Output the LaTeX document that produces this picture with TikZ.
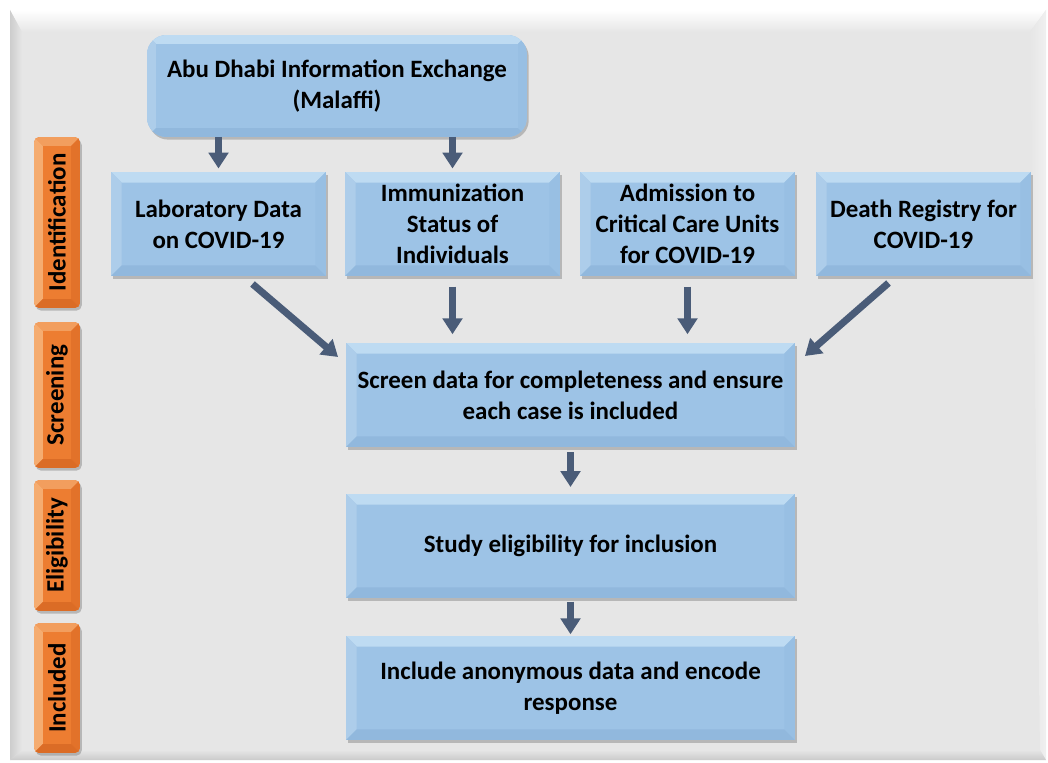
\documentclass[tikz,border=0pt]{standalone}
\usepackage{fontspec}
\setmainfont{Carlito}
\usetikzlibrary{arrows.meta,shadows,calc}
\definecolor{panel}{HTML}{E6E6E6}
\definecolor{panelleft}{HTML}{CDCDCD}
\definecolor{bluef}{HTML}{9DC3E6}
\definecolor{bluetop}{HTML}{BEDBF2}
\definecolor{blueleft}{HTML}{ADCDEA}
\definecolor{blueright}{HTML}{98BFE3}
\definecolor{bluebot}{HTML}{91B8DD}
\definecolor{orf}{HTML}{ED7D31}
\definecolor{ortop}{HTML}{F29E5E}
\definecolor{orleft}{HTML}{F5AC70}
\definecolor{orright}{HTML}{E2722A}
\definecolor{orbot}{HTML}{DB6C26}
\definecolor{arrc}{HTML}{4A5C78}
\newcommand\mainf{\fontsize{14.2}{17.5}\selectfont\bfseries}
\newcommand\bevelit[7]{%
\begin{scope}
\clip[rounded corners=#3] (#1.south west) rectangle (#1.north east);
\fill[#4] (#1.north west) -- (#1.north east) -- ([shift={(-#2,-#2)}]#1.north east) -- ([shift={(#2,-#2)}]#1.north west) -- cycle;
\fill[#5] (#1.north west) -- (#1.south west) -- ([shift={(#2,#2)}]#1.south west) -- ([shift={(#2,-#2)}]#1.north west) -- cycle;
\fill[#6] (#1.north east) -- (#1.south east) -- ([shift={(-#2,#2)}]#1.south east) -- ([shift={(-#2,-#2)}]#1.north east) -- cycle;
\fill[#7] (#1.south west) -- (#1.south east) -- ([shift={(-#2,#2)}]#1.south east) -- ([shift={(#2,#2)}]#1.south west) -- cycle;
\end{scope}}
\tikzset{
  shad/.style={drop shadow={shadow xshift=1pt, shadow yshift=-1.5pt, opacity=0.3, fill=black!70}},
  bbox/.style={fill=bluef, minimum width=4.3cm, minimum height=2.08cm, inner sep=2pt, outer sep=0pt, align=center, font=\mainf, shad},
  wbox/.style={bbox, minimum width=8.98cm},
  obox/.style={fill=orf, minimum width=0.92cm, inner sep=0pt, outer sep=0pt, rounded corners=3pt, font=\mainf, shad},
  arr/.style={draw=arrc, line width=4pt, -{Triangle[width=11pt,length=9pt]}},
}
\begin{document}
\begin{tikzpicture}[x=0.02cm, y=-0.02cm]
\useasboundingbox (0,0) rectangle (1048,763);
\fill[white] (0,0) rectangle (1048,763);
% panel
\fill[panel] (10,10) rectangle (1046,760);
\shade[top color=white, bottom color=panel] (10,10) -- (1046,10) -- (1030,32) -- (22,32) -- cycle;
\shade[left color=panelleft, right color=panel] (10,10) -- (22,32) -- (22,750) -- (10,760) -- cycle;
\shade[left color=panel, right color=panel!60!white] (1046,10) -- (1030,32) -- (1040,750) -- (1046,760) -- cycle;
\shade[top color=panel, bottom color=panel!88!black] (10,760) -- (22,750) -- (1040,750) -- (1046,760) -- cycle;

% top box
\node[fill=bluef, minimum width=7.6cm, minimum height=2.04cm, rounded corners=11pt, align=center, font=\mainf, inner sep=2pt, outer sep=0pt, shad] (top) at (337,86) {};
\bevelit{top}{5pt}{11pt}{bluetop}{blueleft}{blueright}{bluebot}
\node[align=center, font=\mainf] at (top.center) {Abu Dhabi Information Exchange\\(Malaffi)};

% row boxes
\node[bbox] (lab) at (218.5,224) {};
\node[bbox] (imm) at (452.5,224) {};
\node[bbox] (adm) at (687.5,224) {};
\node[bbox] (death) at (923.5,224) {};
\node[wbox] (screen) at (570.5,395) {};
\node[wbox] (elig) at (570.5,546) {};
\node[wbox] (incl) at (570.5,688) {};
\foreach \n in {lab,imm,adm,death,screen,elig,incl}{
  \bevelit{\n}{6pt}{0.01pt}{bluetop}{blueleft}{blueright}{bluebot}
}
\node[align=center, font=\mainf] at (lab.center) {Laboratory Data\\on COVID-19};
\node[align=center, font=\mainf] at (imm.center) {Immunization\\Status of\\Individuals};
\node[align=center, font=\mainf] at (adm.center) {Admission to\\Critical Care Units\\for COVID-19};
\node[align=center, font=\mainf] at (death.center) {Death Registry for\\COVID-19};
\node[align=center, font=\mainf] at (screen.center) {Screen data for completeness and ensure\\each case is included};
\node[align=center, font=\mainf] at (elig.center) {Study eligibility for inclusion};
\node[align=center, font=\mainf] at (incl.center) {Include anonymous data and encode\\response};

% side labels
\node[obox, minimum height=3.42cm] (sid) at (57,222.5) {};
\node[obox, minimum height=2.92cm] (sscr) at (57,395) {};
\node[obox, minimum height=2.62cm] (selig) at (57,545.5) {};
\node[obox, minimum height=2.6cm] (sincl) at (57,688) {};
\foreach \n in {sid,sscr,selig,sincl}{
  \bevelit{\n}{5pt}{3pt}{ortop}{orleft}{orright}{orbot}
}
\node[font=\mainf] at (sid.center) {\rotatebox{90}{Identification}};
\node[font=\mainf] at (sscr.center) {\rotatebox{90}{Screening}};
\node[font=\mainf] at (selig.center) {\rotatebox{90}{Eligibility}};
\node[font=\mainf] at (sincl.center) {\rotatebox{90}{Included}};

% arrows
\draw[arr] (top.south -| lab.north) -- ([yshift=2pt]lab.north);
\draw[arr] (top.south -| imm.north) -- ([yshift=2pt]imm.north);
\draw[arr] ($(lab.south)+(34,8)$) -- ($(screen.north west)+(-8,14)$);
\draw[arr] ([yshift=-6pt]imm.south) -- ([yshift=5pt]imm.south |- screen.north);
\draw[arr] ([yshift=-6pt]adm.south) -- ([yshift=5pt]adm.south |- screen.north);
\draw[arr] ($(death.south)+(-35,7)$) -- ($(screen.north east)+(10,13)$);
\draw[arr] ([yshift=-3pt]screen.south) -- ([yshift=4pt]elig.north);
\draw[arr] ([yshift=-2pt]elig.south) -- ([yshift=1pt]incl.north);
\end{tikzpicture}
\end{document}
